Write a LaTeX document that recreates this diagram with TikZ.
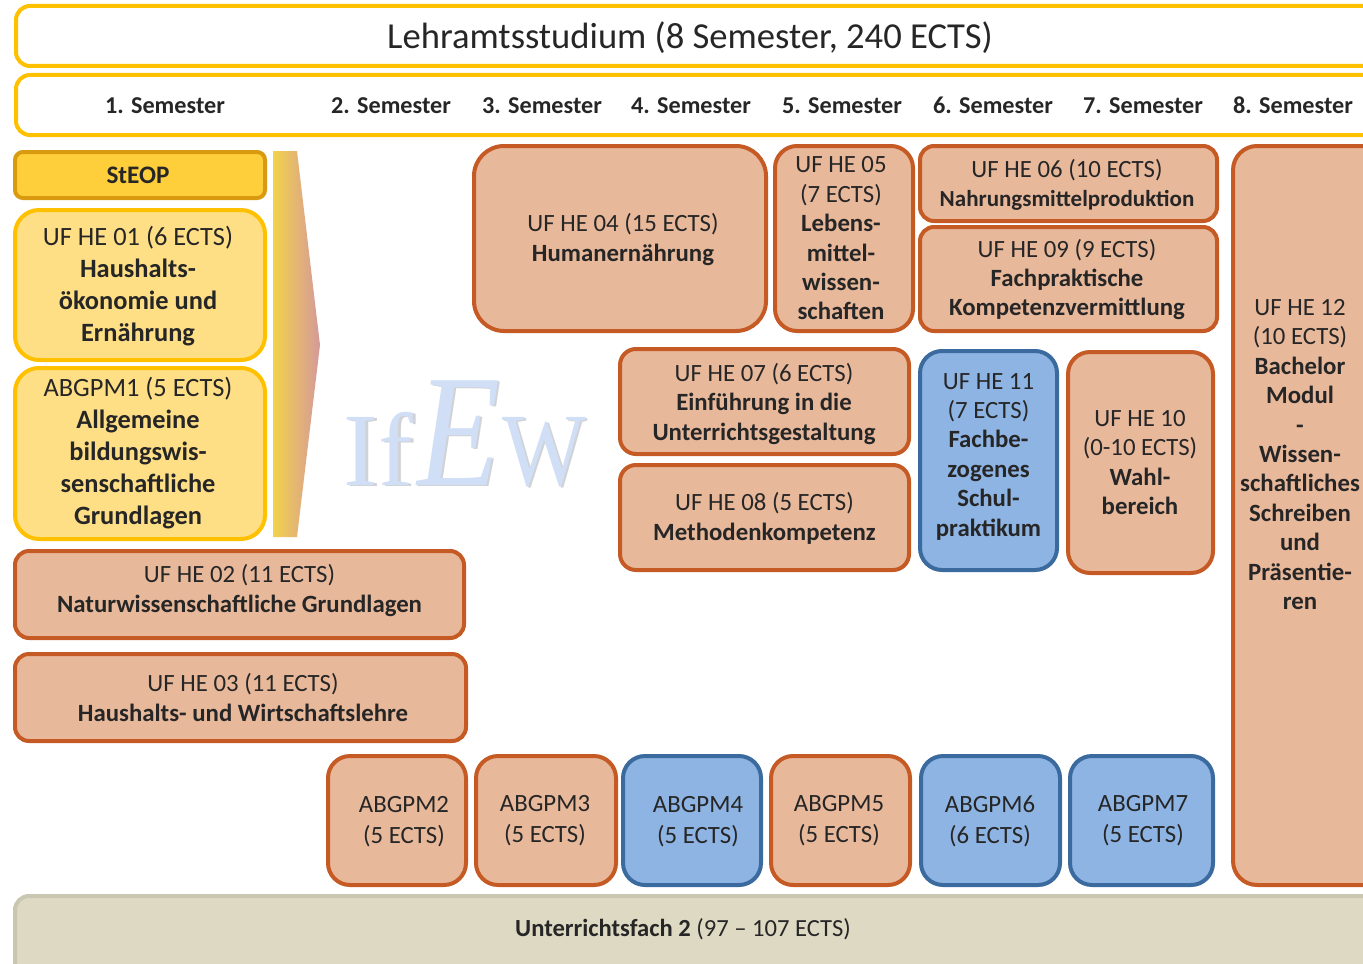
\documentclass[tikz,border=0pt]{standalone}
\usepackage{fontspec}
\setmainfont{Carlito}
\newfontfamily\logofont{Liberation Serif}
\usepackage{xcolor}
\usepackage{tikz}

\definecolor{headgold}{HTML}{FFC000}
\definecolor{steopfill}{HTML}{FFCF3B}
\definecolor{steopline}{HTML}{D99A0F}
\definecolor{paleyellow}{HTML}{FFDF85}
\definecolor{orangefill}{HTML}{E8B89B}
\definecolor{orangeline}{HTML}{C55A24}
\definecolor{bluefill}{HTML}{8EB4E3}
\definecolor{blueline}{HTML}{3B6A9E}
\definecolor{sandfill}{HTML}{DDD9C3}
\definecolor{sandline}{HTML}{C9C6B2}
\definecolor{arrowpink}{HTML}{D4999A}
\definecolor{arrowyellow}{HTML}{F3D24C}
\definecolor{logoblue}{HTML}{D0DFF6}
\definecolor{logogray}{HTML}{D0D2D6}
\definecolor{bodytext}{HTML}{262626}

\tikzset{
  modbox/.style={draw, line width=2pt, inner sep=0pt},
  headbox/.style={modbox, draw=headgold, fill=white, rounded corners=7pt},
  steopbox/.style={modbox, draw=steopline, fill=steopfill, rounded corners=4pt},
  yellowbox/.style={modbox, draw=headgold, fill=paleyellow, rounded corners=12pt},
  orangebox/.style={modbox, draw=orangeline, fill=orangefill},
  bluebox/.style={modbox, draw=blueline, fill=bluefill},
  sandbox/.style={modbox, draw=sandline, fill=sandfill, rounded corners=7pt},
  boxtext/.style={text=bodytext, align=center, inner sep=0pt, font=\fontsize{12.4}{14.7}\selectfont},
  yellowtext/.style={boxtext, font=\fontsize{13.2}{16.1}\selectfont},
  abgtext/.style={boxtext, font=\fontsize{12.4}{15.5}\selectfont},
  titletext/.style={boxtext, font=\fontsize{18.3}{21}\selectfont},
  semlabel/.style={boxtext, text height=8pt, text depth=0pt, font=\fontsize{12.1}{14}\selectfont\bfseries},
  logoletter/.style={inner sep=0pt, anchor=base, font=\logofont\fontsize{52}{52}\selectfont},
  logoitalic/.style={logoletter, font=\logofont\itshape\fontsize{80}{80}\selectfont}
}

\begin{document}
\begin{tikzpicture}[x=0.5pt,y=-0.5pt]

% Fix the page size
\clip (0,0) rectangle (1363,963);

% Draw the two header bars
\node[headbox, minimum width=750pt, minimum height=30pt] (title) at (766,36) {};
\node[titletext] (titlelabel) at (690,37.5) {Lehramtsstudium (8 Semester, 240 ECTS)};
\node[headbox, minimum width=750pt, minimum height=30pt] (semesters) at (766,105) {};

% Add the semester labels
\foreach \nr/\xpos in {1/165,2/391,3/542,4/691,5/842,6/993,7/1143,8/1293}
  \node[semlabel] (sem\nr) at (\xpos,105) {\nr. Semester};

% Draw the logo behind the boxes
\node[logoletter, text=logogray] (logoIfshadow) at (381,486) {If};
\node[logoitalic, text=logogray] (logoEshadow) at (461,486) {\scalebox{0.85}[1]{E}};
\node[logoletter, text=logogray] (logoWshadow) at (546,486) {\scalebox{0.85}[1]{W}};
\node[logoletter, text=logoblue] (logoIf) at (378,485) {If};
\node[logoitalic, text=logoblue] (logoE) at (459,485) {\scalebox{0.85}[1]{E}};
\node[logoletter, text=logoblue] (logoW) at (544,485) {\scalebox{0.85}[1]{W}};

% Draw the big arrow of the first semester
\shade[left color=arrowyellow, right color=arrowpink]
  (273,151) -- (297,151) -- (320,345) -- (297,537) -- (273,537) -- cycle;

% Draw the boxes of the first semester
\node[steopbox, minimum width=125pt, minimum height=23pt] (steop) at (140,175) {};
\node[boxtext, font=\fontsize{12.6}{15}\selectfont] (steoptext) at (138,175) {\textbf{StEOP}};
\node[yellowbox, minimum width=125pt, minimum height=75pt] (he01) at (140,285) {};
\node[yellowtext] (he01text) at (138,286)
  {UF HE 01 (6 ECTS)\\\textbf{Haushalts-}\\\textbf{ökonomie und}\\\textbf{Ernährung}};
\node[yellowbox, minimum width=125pt, minimum height=85.5pt] (abg1) at (140,453.5) {};
\node[yellowtext] (abg1text) at (138,453)
  {ABGPM1 (5 ECTS)\\\textbf{Allgemeine}\\\textbf{bildungswis-}\\\textbf{senschaftliche}\\\textbf{Grundlagen}};
\node[orangebox, rounded corners=7pt, minimum width=224.5pt, minimum height=43.5pt] (he02) at (239.5,594.5) {};
\node[boxtext] (he02text) at (239.5,590.5) {UF HE 02 (11 ECTS)\\\textbf{Naturwissenschaftliche Grundlagen}};
\node[orangebox, rounded corners=7pt, minimum width=225.5pt, minimum height=43.5pt] (he03) at (240.5,697.5) {};
\node[boxtext] (he03text) at (243,697.5) {UF HE 03 (11 ECTS)\\\textbf{Haushalts- und Wirtschaftslehre}};

% Draw the boxes of the upper block
\node[orangebox, rounded corners=15pt, minimum width=146pt, minimum height=92.5pt] (he04) at (620,238.5) {};
\node[boxtext] (he04text) at (623,239.5) {UF HE 04 (15 ECTS)\\\textbf{Humanernährung}};
\node[orangebox, rounded corners=11pt, minimum width=69pt, minimum height=92.5pt] (he05) at (844,238.5) {};
\node[boxtext] (he05text) at (841,238.5)
  {UF HE 05\\(7 ECTS)\\\textbf{Lebens-}\\\textbf{mittel-}\\\textbf{wissen-}\\\textbf{schaften}};
\node[orangebox, rounded corners=7pt, minimum width=148.5pt, minimum height=37.5pt] (he06) at (1068.5,183.5) {};
\node[boxtext] (he06text) at (1067,185)
  {UF HE 06 (10 ECTS)\\{\fontsize{11.5}{14.7}\selectfont\textbf{Nahrungsmittelproduktion}}};
\node[orangebox, rounded corners=7pt, minimum width=148.5pt, minimum height=52pt] (he09) at (1068.5,279) {};
\node[boxtext] (he09text) at (1067,279.5) {UF HE 09 (9 ECTS)\\\textbf{Fachpraktische}\\\textbf{Kompetenzvermittlung}};

% Draw the boxes of the middle block
\node[orangebox, rounded corners=8pt, minimum width=144.5pt, minimum height=52.5pt] (he07) at (764.5,401.5) {};
\node[boxtext] (he07text) at (764,404) {UF HE 07 (6 ECTS)\\\textbf{Einführung in die}\\\textbf{Unterrichtsgestaltung}};
\node[orangebox, rounded corners=8pt, minimum width=144.5pt, minimum height=52.5pt] (he08) at (764.5,517.5) {};
\node[boxtext] (he08text) at (764.5,518.5) {UF HE 08 (5 ECTS)\\\textbf{Methodenkompetenz}};
\node[bluebox, rounded corners=11pt, minimum width=68.5pt, minimum height=109.5pt] (he11) at (988.5,460.5) {};
\node[boxtext] (he11text) at (988.5,456.5)
  {UF HE 11\\(7 ECTS)\\\textbf{Fachbe-}\\\textbf{zogenes}\\\textbf{Schul-}\\\textbf{praktikum}};
\node[orangebox, rounded corners=11pt, minimum width=72.5pt, minimum height=110.5pt] (he10) at (1140.5,462.5) {};
\node[boxtext] (he10text) at (1140,462.5) {UF HE 10\\(0-10 ECTS)\\\textbf{Wahl-}\\\textbf{bereich}};

% Draw the bachelor module at the right edge
\node[orangebox, rounded corners=12pt, minimum width=100pt, minimum height=369.5pt] (he12) at (1333,515.5) {};
\node[boxtext] (he12text) at (1300,454.5) {UF HE 12\\(10 ECTS)\\\textbf{Bachelor}\\\textbf{Modul}\\\textbf{-}\\\textbf{Wissen-}\\\textbf{schaftliches}\\\textbf{Schreiben}\\\textbf{und}\\\textbf{Präsentie-}\\\textbf{ren}};

% Draw the bottom row of modules
\foreach \nr/\xpos/\boxw/\kind/\xtext/\ytext/\ects in {2/397/69/orangebox/404/822/5,3/546/70/orangebox/545/821/5,4/692/69/bluebox/698/822/5,5/840.5/69.5/orangebox/839/821/5,6/990.5/69.5/bluebox/990/821/6,7/1141.5/71.5/bluebox/1143/821/5}{
  \node[\kind, rounded corners=11pt, minimum width=\boxw pt, minimum height=64.5pt] (abg\nr) at (\xpos,820.5) {};
  \node[abgtext] (abg\nr text) at (\xtext,\ytext) {ABGPM\nr\\(\ects{} ECTS)};
}

% Draw the bar of the second subject
\node[sandbox, minimum width=700pt, minimum height=47pt] (fach2) at (715,943) {};
\node[boxtext, font=\fontsize{12.3}{14.7}\selectfont] (fach2text) at (683,929) {\textbf{Unterrichtsfach 2} (97 -- 107 ECTS)};

\end{tikzpicture}
\end{document}
